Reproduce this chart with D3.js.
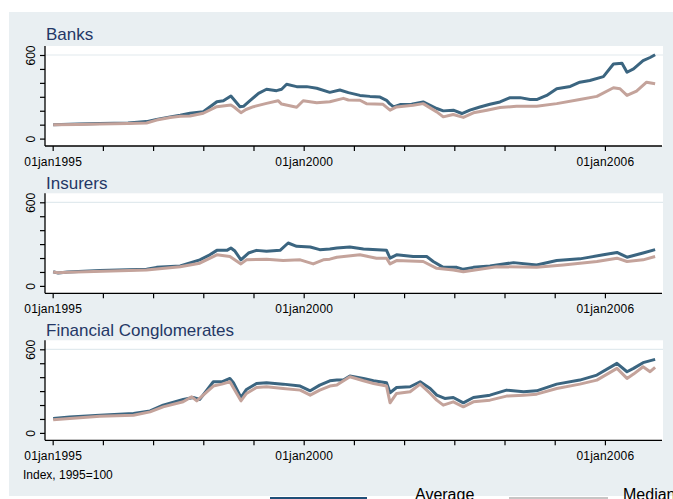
<!DOCTYPE html>
<html>
<head>
<meta charset="utf-8">
<script src="https://cdn.jsdelivr.net/npm/d3@7/dist/d3.min.js"></script>
<style>
  html, body { margin: 0; padding: 0; background: #ffffff; }
  svg { display: block; }
  text { font-family: "Liberation Sans", Arial, Helvetica, sans-serif; }
</style>
</head>
<body>
<svg id="chart" width="673" height="499"></svg>
<script>
// Stock indices of European financial groups, [decimal year, index] pairs.
const banksAverage = [[1995.01,100],[1995.5,104],[1995.94,108],[1996.5,112],[1996.87,122],[1997.07,138],[1997.34,156],[1997.54,168],[1997.735,182],[1998.0,193],[1998.27,265],[1998.40,272],[1998.55,306],[1998.63,272],[1998.73,229],[1998.80,232],[1998.93,272],[1999.10,325],[1999.26,354],[1999.46,344],[1999.56,354],[1999.66,390],[1999.86,373],[2000.06,373],[2000.26,361],[2000.52,332],[2000.72,349],[2000.89,330],[2001.12,310],[2001.32,303],[2001.52,298],[2001.65,275],[2001.71,251],[2001.79,227],[2001.92,244],[2002.15,246],[2002.38,263],[2002.52,239],[2002.65,216],[2002.78,199],[2002.98,204],[2003.15,180],[2003.31,204],[2003.51,227],[2003.71,246],[2003.91,263],[2004.11,294],[2004.31,294],[2004.51,280],[2004.64,280],[2004.84,310],[2005.04,358],[2005.31,374],[2005.50,405],[2005.70,417],[2005.97,445],[2006.17,535],[2006.34,540],[2006.44,476],[2006.57,500],[2006.76,559],[2006.90,582],[2007.00,602]];
const banksMedian = [[1995.01,100],[1995.5,102],[1995.94,105],[1996.5,108],[1996.87,112],[1997.07,133],[1997.34,152],[1997.54,160],[1997.735,162],[1998.0,182],[1998.27,229],[1998.55,241],[1998.62,225],[1998.75,186],[1998.85,209],[1999.0,229],[1999.26,253],[1999.49,272],[1999.56,248],[1999.86,225],[1999.99,272],[2000.26,258],[2000.52,265],[2000.79,289],[2000.89,277],[2001.12,275],[2001.25,251],[2001.58,246],[2001.72,204],[2001.85,227],[2002.18,239],[2002.38,251],[2002.65,192],[2002.78,156],[2002.98,173],[2003.18,152],[2003.38,185],[2003.65,204],[2003.91,223],[2004.24,232],[2004.64,232],[2005.04,251],[2005.50,280],[2005.84,303],[2006.17,365],[2006.30,358],[2006.44,310],[2006.63,341],[2006.83,405],[2007.00,394]];

const insurersAverage = [[1995.01,102],[1995.11,92],[1995.3,100],[1995.94,110],[1996.87,119],[1997.07,133],[1997.54,143],[1997.93,187],[1998.13,223],[1998.27,255],[1998.47,255],[1998.55,272],[1998.63,250],[1998.75,187],[1998.90,236],[1999.06,255],[1999.26,248],[1999.53,255],[1999.69,308],[1999.86,284],[2000.13,279],[2000.32,260],[2000.52,265],[2000.66,272],[2000.92,279],[2001.19,265],[2001.65,255],[2001.72,199],[2001.85,223],[2002.18,211],[2002.45,211],[2002.58,175],[2002.78,133],[2003.05,133],[2003.18,119],[2003.38,133],[2003.71,143],[2004.18,167],[2004.64,150],[2005.04,182],[2005.50,194],[2005.97,223],[2006.24,240],[2006.44,206],[2006.76,236],[2007.00,260]];
const insurersMedian = [[1995.01,100],[1995.11,95],[1995.3,98],[1996.87,114],[1997.54,138],[1997.93,163],[1998.27,223],[1998.53,211],[1998.75,158],[1998.86,187],[1999.26,192],[1999.59,182],[1999.93,187],[2000.19,158],[2000.39,187],[2000.52,192],[2000.66,206],[2001.12,223],[2001.45,199],[2001.65,199],[2001.72,158],[2001.85,182],[2002.38,175],[2002.65,126],[2002.98,114],[2003.18,102],[2003.84,138],[2004.64,133],[2005.17,150],[2005.84,175],[2006.24,199],[2006.44,175],[2006.76,187],[2007.00,211]];

const conglomAverage = [[1995.01,103],[1995.34,115],[1995.94,127],[1996.61,139],[1996.94,158],[1997.20,199],[1997.60,240],[1997.80,254],[1997.93,240],[1998.20,367],[1998.37,367],[1998.53,391],[1998.60,360],[1998.75,254],[1998.86,312],[1999.06,355],[1999.26,360],[1999.59,350],[1999.93,336],[2000.13,302],[2000.32,343],[2000.52,374],[2000.66,379],[2000.79,379],[2000.92,408],[2001.19,391],[2001.39,374],[2001.65,360],[2001.72,288],[2001.85,326],[2002.12,331],[2002.32,367],[2002.52,319],[2002.65,271],[2002.81,247],[2002.98,254],[2003.18,216],[2003.38,254],[2003.71,271],[2004.04,307],[2004.38,295],[2004.64,302],[2005.04,350],[2005.50,379],[2005.84,415],[2006.24,499],[2006.44,439],[2006.57,463],[2006.76,504],[2007.00,528]];
const conglomMedian = [[1995.01,95],[1995.94,120],[1996.61,127],[1996.94,151],[1997.20,187],[1997.60,223],[1997.77,259],[1997.87,230],[1998.20,336],[1998.37,350],[1998.53,367],[1998.75,230],[1998.86,283],[1999.06,326],[1999.26,331],[1999.59,319],[1999.93,307],[2000.13,271],[2000.32,307],[2000.52,336],[2000.66,343],[2000.92,403],[2001.19,374],[2001.39,355],[2001.65,336],[2001.72,216],[2001.85,283],[2002.12,295],[2002.32,350],[2002.52,283],[2002.65,235],[2002.78,199],[2002.98,223],[2003.18,187],[2003.38,223],[2003.71,235],[2004.04,264],[2004.38,271],[2004.64,278],[2005.04,319],[2005.50,350],[2005.84,379],[2006.24,463],[2006.44,391],[2006.57,422],[2006.76,475],[2006.90,439],[2007.00,470]];

const panelTitles = ["Banks", "Insurers", "Financial Conglomerates"];
const yearTicks = [1995, 1996, 1997, 1998, 1999, 2000, 2001, 2002, 2003, 2004, 2005, 2006];
const labelledYears = [1995, 2000, 2006];
const yTicks = [0, 100, 200, 300, 400, 500, 600];
const yLabelled = [0, 600];
const legendLabels = ["Average", "Median"];
const noteText = "Index, 1995=100";

const colors = { average: "#3b6580", median: "#c4a39b", bg: "#e9eff2", title: "#243766" };

const svg = d3.select("#chart");

// outer graph region
svg.append("rect").attr("x", 9).attr("y", 12).attr("width", 664).attr("height", 484)
  .attr("fill", colors.bg);

const plotLeft = 45, plotRight = 663, plotH = 100;
const panels = [
  { title: panelTitles[0], titleY: 39.5, top: 46,    avg: banksAverage,    med: banksMedian },
  { title: panelTitles[1], titleY: 189.3, top: 193.3, avg: insurersAverage, med: insurersMedian },
  { title: panelTitles[2], titleY: 336, top: 340.3, avg: conglomAverage,  med: conglomMedian }
];

const x = d3.scaleLinear().domain([1994.847, 2007.157]).range([plotLeft, plotRight]);

panels.forEach(p => {
  const g = svg.append("g");
  const bottom = p.top + plotH;
  const y = d3.scaleLinear().domain([0, 600]).range([p.top + 92.6, p.top + 9]);

  g.append("rect").attr("x", plotLeft).attr("y", p.top)
    .attr("width", plotRight - plotLeft).attr("height", plotH).attr("fill", "#ffffff");

  // grid line at the top tick
  g.append("line").attr("x1", plotLeft).attr("x2", plotRight)
    .attr("y1", y(600)).attr("y2", y(600))
    .attr("stroke", "#e1eaee").attr("stroke-width", 1.2);

  g.append("text").attr("x", 46).attr("y", p.titleY)
    .attr("font-size", 17).attr("fill", colors.title).text(p.title);

  const line = d3.line().x(d => x(d[0])).y(d => y(d[1]));
  g.append("path").datum(p.avg).attr("d", line).attr("fill", "none")
    .attr("stroke", colors.average).attr("stroke-width", 3).attr("stroke-linejoin", "round");
  g.append("path").datum(p.med).attr("d", line).attr("fill", "none")
    .attr("stroke", colors.median).attr("stroke-width", 3).attr("stroke-linejoin", "round");

  // x axis
  const xa = g.append("g").attr("transform", `translate(0,${bottom})`)
    .call(d3.axisBottom(x).tickValues(yearTicks).tickSize(5).tickSizeOuter(0).tickPadding(6)
      .tickFormat(d => labelledYears.includes(d) ? "01jan" + d : ""));
  xa.select(".domain").remove();
  xa.selectAll(".tick line").attr("stroke", "#000").attr("stroke-width", 1.2);
  xa.selectAll(".tick text").attr("font-size", 12).attr("fill", "#000")
    .attr("font-family", "Liberation Sans, Arial, sans-serif").attr("letter-spacing", "0.2px");

  // y axis with vertical labels
  const ya = g.append("g").attr("transform", `translate(${plotLeft},0)`)
    .call(d3.axisLeft(y).tickValues(yTicks).tickSize(5).tickSizeOuter(0)
      .tickFormat(d => yLabelled.includes(d) ? d : ""));
  ya.select(".domain").remove();
  ya.selectAll(".tick line").attr("stroke", "#000").attr("stroke-width", 1.2);
  ya.selectAll(".tick text").attr("font-size", 12).attr("fill", "#000")
    .attr("font-family", "Liberation Sans, Arial, sans-serif")
    .attr("x", 0).attr("dy", 0).attr("text-anchor", "middle")
    .attr("transform", "translate(-10,0) rotate(-90)");

  // axis lines
  g.append("line").attr("x1", plotLeft).attr("x2", plotLeft).attr("y1", p.top).attr("y2", bottom)
    .attr("stroke", "#000").attr("stroke-width", 1.3);
  g.append("line").attr("x1", plotLeft).attr("x2", plotRight - 1).attr("y1", bottom).attr("y2", bottom)
    .attr("stroke", "#000").attr("stroke-width", 1.3);
});

svg.append("text").attr("x", 23).attr("y", 479).attr("font-size", 12).attr("fill", "#000")
  .text(noteText);

// legend below the graph region
const legend = svg.append("g");
legend.append("rect").attr("x", 270).attr("y", 497).attr("width", 97).attr("height", 3).attr("fill", "#1f4f78");
legend.append("rect").attr("x", 509).attr("y", 497).attr("width", 99).attr("height", 3).attr("fill", "#c6c6c6");
legend.append("text").attr("x", 415).attr("y", 499.5).attr("font-size", 16)
  .attr("font-family", "Liberation Serif, Times New Roman, serif").text(legendLabels[0]);
legend.append("text").attr("x", 623).attr("y", 499.5).attr("font-size", 16)
  .attr("font-family", "Liberation Serif, Times New Roman, serif").text(legendLabels[1]);
</script>
</body>
</html>
